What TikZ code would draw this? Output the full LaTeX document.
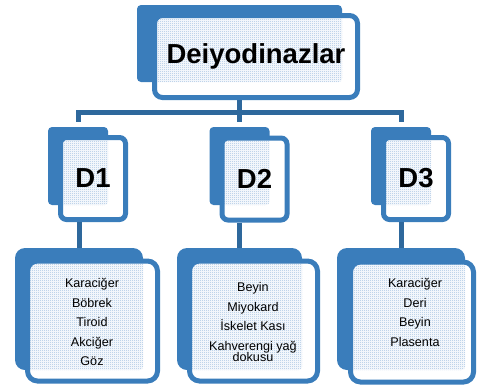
\documentclass[tikz,border=0pt]{standalone}
\usepackage{fontspec}
\setmainfont{Liberation Sans}
\usetikzlibrary{patterns}
\definecolor{dboxblue}{HTML}{3A7DBB}
\definecolor{dlinkblue}{HTML}{2E689C}
\definecolor{ddotblue}{HTML}{9DBDE0}
\pgfdeclarepatternformonly{finedots}{\pgfpointorigin}{\pgfqpoint{2pt}{2pt}}{\pgfqpoint{2pt}{2pt}}{%
  \pgfpathrectangle{\pgfpointorigin}{\pgfqpoint{1pt}{1pt}}%
  \pgfpathrectangle{\pgfqpoint{1pt}{1pt}}{\pgfqpoint{1pt}{1pt}}%
  \pgfusepath{fill}}

\begin{document}
\begin{tikzpicture}[x=1pt, y=-1pt,
        back/.style={fill=dboxblue, rounded corners=4pt, inner sep=0pt},
        front/.style={
          fill=white, line width=5pt,
          rounded corners=8pt, inner sep=0pt,
          postaction={draw=dboxblue},
        },
        over/.style={path picture={
          \fill[pattern=finedots, pattern color=ddotblue, rounded corners=4pt]
            (#1.north west) rectangle (#1.south east);}},
        big/.style={font=\fontsize{27.5}{32}\selectfont\bfseries},
        items/.style={font=\fontsize{12.6}{19.5}\selectfont, align=center},
        link/.style={draw=dlinkblue, line width=5pt},
      ]
      \useasboundingbox (0,0) rectangle (477,386);

      % top box
      \node[back, minimum width=205pt, minimum height=77pt] (tb) at (239.5,43.5) {};
      \node[front, over=tb, big, minimum width=203pt, minimum height=82pt] (tf) at (256,56.5) {Deiyodinazlar};

      % D boxes
      \node[back, minimum width=60pt, minimum height=78pt] (d1b) at (78,166) {};
      \node[back, minimum width=60pt, minimum height=78pt] (d2b) at (239.5,166) {};
      \node[back, minimum width=60pt, minimum height=78pt] (d3b) at (401,166) {};
      \node[front, over=d1b, big, rounded corners=6pt,
            minimum width=65pt, minimum height=82pt] (d1f) at (93,178.5) {D1};
      \node[front, over=d2b, big, rounded corners=6pt,
            minimum width=65pt, minimum height=82pt] (d2f) at (254.5,179) {D2};
      \node[front, over=d3b, big, rounded corners=6pt,
            minimum width=65pt, minimum height=82pt] (d3f) at (416,178.5) {D3};

      % tissue boxes
      \node[back, rounded corners=10pt, minimum width=128pt, minimum height=122pt] (l1b) at (79,309) {};
      \node[back, rounded corners=10pt, minimum width=125pt, minimum height=122pt] (l2b) at (239.5,309) {};
      \node[back, rounded corners=10pt, minimum width=128pt, minimum height=122pt] (l3b) at (401,309) {};
      \node[front, over=l1b, rounded corners=10pt, minimum width=130pt, minimum height=120pt] (l1f) at (92.5,321) {};
      \node[front, over=l2b, rounded corners=10pt, minimum width=128pt, minimum height=120pt] (l2f) at (253.5,321) {};
      \node[front, over=l3b, rounded corners=10pt, minimum width=123pt, minimum height=120pt] (l3f) at (412,322) {};

      \node[items] (l1t) at (92,322) {Karaciğer\\Böbrek\\Tiroid\\Akciğer\\Göz};
      \node[items] (l2t) at (253,322) {Beyin\\Miyokard\\İskelet Kası\\Kahverengi yağ\\[-8pt]dokusu};
      \node[items] (l3t) at (415,312.5) {Karaciğer\\Deri\\Beyin\\Plasenta};

      % connectors
      \coordinate (bar) at (239.5,112);
      \draw[link] (tb |- tf.south) -- (bar);
      \draw[link, shorten >=5pt] (bar) -| (d1b.north);
      \draw[link, shorten >=5pt] (bar) -- (d2b.north);
      \draw[link, shorten >=5pt] (bar) -| (d3b.north);
      \draw[link] (l1b.north |- d1f.south) -- (l1b.north);
      \draw[link] (l2b.north |- d2f.south) -- (l2b.north);
      \draw[link] (l3b.north |- d3f.south) -- (l3b.north);
    \end{tikzpicture}
\end{document}
